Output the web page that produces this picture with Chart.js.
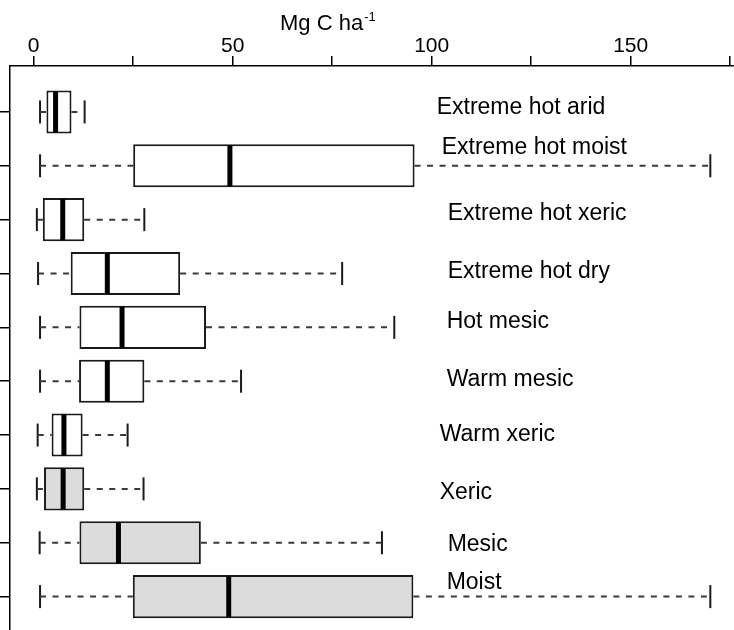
<!DOCTYPE html>
<html>
<head>
<meta charset="utf-8">
<script src="https://cdn.jsdelivr.net/npm/chart.js@4.4.1/dist/chart.umd.min.js"></script>
<style>
  html, body { margin: 0; padding: 0; background: #fff; overflow: hidden; }
  #wrap { width: 734px; height: 630px; }
</style>
</head>
<body>
<div id="wrap"><canvas id="myChart" width="734" height="630"></canvas></div>
<script>
// zones, top to bottom
const categories = ['Extreme hot arid', 'Extreme hot moist', 'Extreme hot xeric', 'Extreme hot dry',
  'Hot mesic', 'Warm mesic', 'Warm xeric', 'Xeric', 'Mesic', 'Moist'];
// Mg C ha-1
const whiskerLow  = [1.6, 1.6, 0.8, 1.1, 1.6, 1.6, 1.0, 0.8, 1.5, 1.6];
const q1          = [3.2, 25.0, 2.3, 9.3, 11.5, 11.4, 4.5, 2.6, 11.5, 24.9];
const median      = [5.5, 49.3, 7.3, 18.5, 22.2, 18.5, 7.6, 7.4, 21.3, 49.0];
const q3          = [9.5, 95.7, 12.7, 36.8, 43.3, 27.8, 12.3, 12.7, 42.0, 95.4];
const whiskerHigh = [12.8, 170.0, 27.8, 77.5, 90.6, 52.1, 23.6, 27.6, 87.5, 170.0];
const xTicks = [0, 25, 50, 75, 100, 125, 150, 175];

// styling only
const boxFill = ['#fff', '#fff', '#fff', '#fff', '#fff', '#fff', '#fff', '#dcdcdc', '#dcdcdc', '#dcdcdc'];
const labelDx = [-3, 2, 8, 8, 7, 7, 0, 0, 8, 7];
const labelDy = [-4, -18, -6, -2, -6, -2, 0, 4, 2, -14];

const FONT = "'Liberation Sans', Arial, sans-serif";
const rowOf = i => i + 1;

const medianPts = categories.map((c, i) => ({x: median[i], y: rowOf(i)}));
const boxes = categories.map((c, i) => ({x: [q1[i], q3[i]], y: rowOf(i)}));
const whiskers = categories.flatMap((c, i) => [
  {x: whiskerLow[i], y: rowOf(i)}, {x: q1[i], y: rowOf(i)}, {x: null, y: rowOf(i)},
  {x: q3[i], y: rowOf(i)}, {x: whiskerHigh[i], y: rowOf(i)}, {x: null, y: rowOf(i)}
]);
const caps = categories.flatMap((c, i) => [
  {x: whiskerLow[i], y: rowOf(i)}, {x: whiskerHigh[i], y: rowOf(i)}
]);

const textPlugin = {
  id: 'texts',
  afterDraw(chart) {
    const ctx = chart.ctx;
    const xs = chart.scales.x, ys = chart.scales.y;
    ctx.save();
    ctx.fillStyle = '#000';
    // axis title with superscript
    ctx.textBaseline = 'alphabetic';
    ctx.textAlign = 'left';
    ctx.font = '22px ' + FONT;
    ctx.fillText('Mg C ha', 280, 30);
    const w = ctx.measureText('Mg C ha').width;
    ctx.font = '13px ' + FONT;
    ctx.fillText('-1', 280 + w + 1, 21);
    // zone labels
    ctx.font = '23px ' + FONT;
    ctx.textBaseline = 'middle';
    categories.forEach((c, i) => {
      const px = xs.getPixelForValue(102) + labelDx[i];
      const py = ys.getPixelForValue(rowOf(i)) + labelDy[i];
      ctx.fillText(c, px, py);
    });
    ctx.restore();
  }
};

const ctx = document.getElementById('myChart');
const myChart = new Chart(ctx, {
  type: 'bar',
  data: {
    labels: categories,
    datasets: [
      {
        type: 'scatter',
        data: medianPts,
        pointStyle: 'line',
        rotation: 90,
        radius: 20.5,
        borderWidth: 5,
        borderColor: '#000'
      },
      {
        type: 'bar',
        data: boxes,
        backgroundColor: boxFill,
        borderColor: '#1a1a1a',
        borderWidth: 2,
        borderSkipped: false,
        barPercentage: 0.8,
        categoryPercentage: 1
      },
      {
        type: 'line',
        data: whiskers,
        borderColor: '#3a3a3a',
        borderWidth: 2,
        borderDash: [6, 6.5],
        pointRadius: 0,
        fill: false,
        spanGaps: false
      },
      {
        type: 'scatter',
        data: caps,
        pointStyle: 'line',
        rotation: 90,
        radius: 11.5,
        borderWidth: 2,
        borderColor: '#1a1a1a'
      }
    ]
  },
  options: {
    indexAxis: 'y',
    responsive: false,
    animation: false,
    layout: { padding: 0, autoPadding: false },
    plugins: { legend: { display: false }, tooltip: { enabled: false } },
    scales: {
      x: {
        type: 'linear',
        position: 'top',
        min: -5.95,
        max: 175.95,
        afterBuildTicks: s => { s.ticks = xTicks.map(v => ({value: v})); },
        afterFit: s => { s.height = 66; s.paddingLeft = 0; s.paddingRight = 0; },
        ticks: {
          color: '#000',
          font: { family: FONT, size: 21 },
          padding: -3,
          maxRotation: 0,
          autoSkip: false,
          callback: v => (v % 50 === 0 ? String(v) : '')
        },
        grid: { drawOnChartArea: false, color: '#000', lineWidth: 1.5, tickLength: 10 },
        border: { display: true, color: '#000', width: 1.5 }
      },
      y: {
        type: 'linear',
        reverse: true,
        offset: false,
        min: 0.147,
        max: 10.62,
        afterBuildTicks: s => { s.ticks = categories.map((c, i) => ({value: rowOf(i)})); },
        afterFit: s => { s.width = 10; s.paddingTop = 0; s.paddingBottom = 0; },
        ticks: { display: false },
        grid: { offset: false, drawOnChartArea: false, color: '#000', lineWidth: 1.5, tickLength: 10 },
        border: { display: true, color: '#000', width: 1.5 }
      }
    }
  },
  plugins: [textPlugin]
});
</script>
</body>
</html>
